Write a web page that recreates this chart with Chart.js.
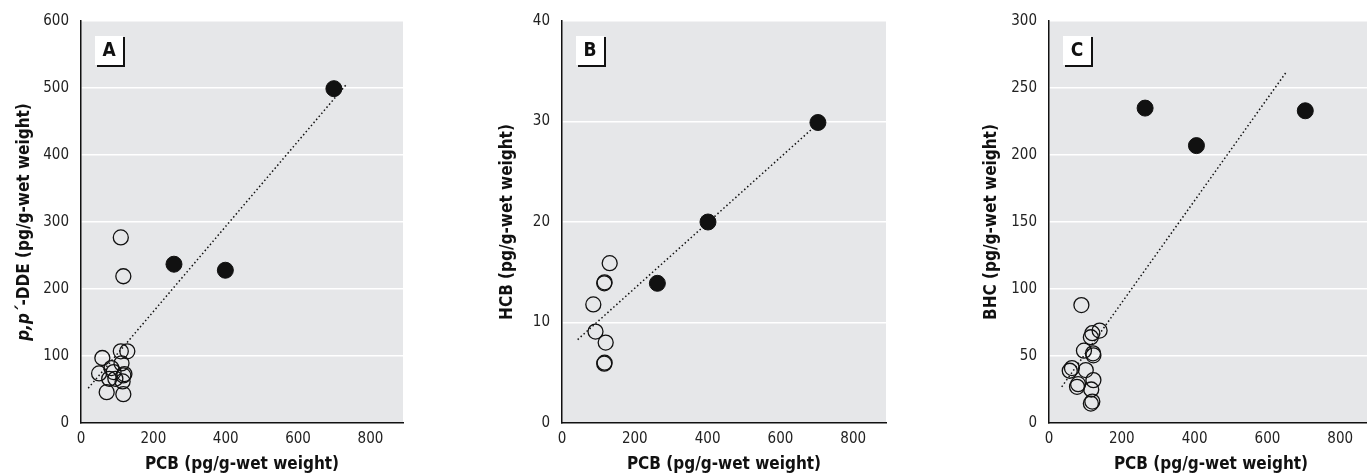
<!DOCTYPE html>
<html>
<head>
<meta charset="utf-8">
<script src="https://cdn.jsdelivr.net/npm/chart.js@4/dist/chart.umd.min.js"></script>
<style>
  html, body { margin:0; padding:0; background:#fff; overflow:hidden; width:1367px; height:475px; }
  canvas { position:absolute; top:0; }
</style>
</head>
<body>
<canvas id="chartA" width="425" height="475" style="left:0"></canvas>
<canvas id="chartB" width="460" height="475" style="left:440px"></canvas>
<canvas id="chartC" width="490" height="475" style="left:900px"></canvas>
<script>
'use strict';

// shared x axis (PCB)
const xTicks = [0, 200, 400, 600, 800];

// A: p,p'-DDE vs PCB
const yTicksA = [0, 100, 200, 300, 400, 500, 600];
const openA = [[110,277],[117,219],[59,97],[110,107],[128,107],[112,89],[50,74],[84,82],
               [90,76],[95,66],[117,71],[120,73],[115,62],[78,66],[71,46],[117,43]];
const filledA = [[257,237],[399,228],[699,499]];
const trendA = [[20,52],[736,507]];

// B: HCB vs PCB
const yTicksB = [0, 10, 20, 30, 40];
const openB = [[131,15.9],[116,13.9],[117,14.0],[86,11.8],[92,9.1],[120,8.0],[116,5.9],[117,6.0]];
const filledB = [[262,13.9],[401,20],[703,29.9]];
const trendB = [[43,8.3],[691,29.4]];

// C: BHC vs PCB
const yTicksC = [0, 50, 100, 150, 200, 250, 300];
const openC = [[89,88],[139,69],[119,67],[115,64],[96,54],[121,52],[122,50.5],[63,41],
               [57,39],[101,39.5],[122,32],[80,29],[77,27],[116,25],[119,16],[115,14.5]];
const filledC = [[264,235],[405,207],[704,233]];
const trendC = [[35,27],[652,262]];

const FONT = '"Liberation Sans Narrow", "Arial Narrow", "DejaVu Sans Condensed", sans-serif';
const toPts = arr => arr.map(([x, y]) => ({ x, y }));

const deco = {
  id: 'deco',
  beforeDraw(chart) {
    const { ctx, chartArea: a } = chart;
    ctx.save();
    ctx.fillStyle = '#e6e7e9';
    ctx.fillRect(a.left, a.top, a.right - a.left, a.bottom - a.top);
    ctx.restore();
  },
  afterDraw(chart, args, o) {
    const { ctx, chartArea: a } = chart;
    ctx.save();
    // panel letter box
    const bx = a.left + 14, by = a.top + 15, bw = 28, bh = 29;
    ctx.fillStyle = '#fff';
    ctx.fillRect(bx, by, bw, bh);
    ctx.strokeStyle = '#111';
    ctx.lineWidth = 2;
    ctx.beginPath();
    ctx.moveTo(bx + bw + 1, by + 1);
    ctx.lineTo(bx + bw + 1, by + bh + 1);
    ctx.lineTo(bx + 2, by + bh + 1);
    ctx.stroke();
    ctx.fillStyle = '#111';
    ctx.font = 'bold 19px ' + FONT;
    ctx.textAlign = 'center';
    ctx.textBaseline = 'middle';
    ctx.fillText(o.letter, bx + bw / 2, by + bh / 2 + 1);

    // y axis title, possibly with italic parts
    ctx.translate(o.titleX, (a.top + a.bottom) / 2);
    ctx.rotate(-Math.PI / 2);
    ctx.textAlign = 'left';
    const fontOf = p => (p.italic ? 'italic ' : '') + 'bold 17px ' + FONT;
    let total = 0;
    o.parts.forEach(p => { ctx.font = fontOf(p); total += ctx.measureText(p.t).width; });
    let x = -total / 2;
    o.parts.forEach(p => {
      ctx.font = fontOf(p);
      ctx.fillText(p.t, x, 0);
      x += ctx.measureText(p.t).width;
    });
    ctx.restore();
  }
};

function makeChart(id, cfg) {
  new Chart(document.getElementById(id), {
    type: 'scatter',
    data: {
      datasets: [
        { data: toPts(cfg.filled), pointRadius: 8, pointBackgroundColor: '#111',
          pointBorderColor: '#111', pointBorderWidth: 1, order: 1 },
        { data: toPts(cfg.open), pointRadius: 7.5, pointBackgroundColor: 'rgba(0,0,0,0)',
          pointBorderColor: '#111', pointBorderWidth: 1.3, order: 2 },
        { type: 'line', data: toPts(cfg.trend), showLine: true, pointRadius: 0,
          borderColor: '#111', borderWidth: 1.5, borderDash: [1.5, 2.5], fill: false, order: 3 },
      ],
    },
    options: {
      responsive: false,
      animation: false,
      layout: { padding: { top: 18, right: cfg.padRight, left: 0, bottom: 0 } },
      plugins: {
        legend: { display: false },
        tooltip: { enabled: false },
        deco: { letter: cfg.letter, titleX: cfg.titleX, parts: cfg.parts },
      },
      scales: {
        x: {
          type: 'linear', min: 0, max: 890,
          afterBuildTicks: s => { s.ticks = xTicks.map(v => ({ value: v })); },
          afterFit: s => { s.height = 52; },
          grid: { display: false, drawTicks: false },
          border: { color: '#111', width: 1.5 },
          ticks: { padding: 7, color: '#222', font: { family: FONT, size: 15 } },
          title: { display: true, text: 'PCB (pg/g-wet weight)', color: '#111',
                   font: { family: FONT, size: 17, weight: 'bold' }, padding: { top: 4, bottom: 0 } },
        },
        y: {
          min: 0, max: cfg.yTicks[cfg.yTicks.length - 1],
          afterBuildTicks: s => { s.ticks = cfg.yTicks.map(v => ({ value: v })); },
          afterFit: s => { s.width = cfg.yAxisW; },
          grid: { color: '#fff', lineWidth: 1.5, drawTicks: false },
          border: { color: '#111', width: 1.5 },
          ticks: { padding: 12, color: '#222', font: { family: FONT, size: 15 } },
        },
      },
    },
    plugins: [deco],
  });
}

makeChart('chartA', { letter: 'A', yTicks: yTicksA, open: openA, filled: filledA, trend: trendA,
  yAxisW: 81, padRight: 22, titleX: 25,
  parts: [{ t: 'p,p´', italic: true }, { t: '-DDE (pg/g-wet weight)' }] });
makeChart('chartB', { letter: 'B', yTicks: yTicksB, open: openB, filled: filledB, trend: trendB,
  yAxisW: 122, padRight: 14, titleX: 68,
  parts: [{ t: 'HCB (pg/g-wet weight)' }] });
makeChart('chartC', { letter: 'C', yTicks: yTicksC, open: openC, filled: filledC, trend: trendC,
  yAxisW: 149, padRight: 17, titleX: 92,
  parts: [{ t: 'BHC (pg/g-wet weight)' }] });
</script>
</body>
</html>
